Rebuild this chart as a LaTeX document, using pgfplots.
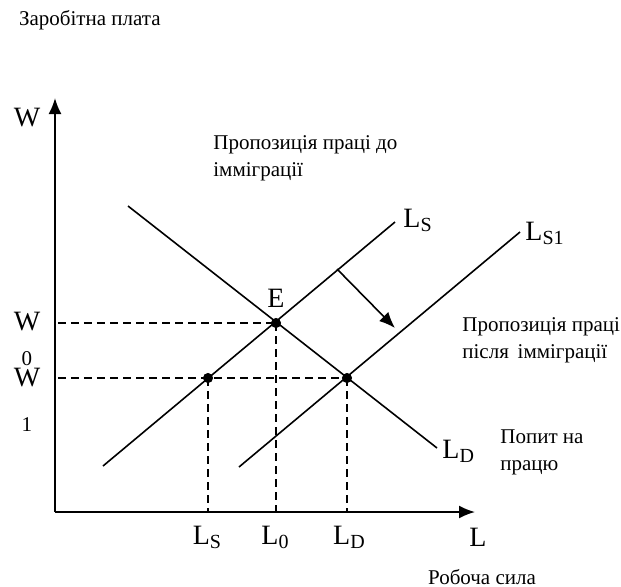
\documentclass[border=0pt]{standalone}
\usepackage{fontspec}
\setmainfont{Liberation Serif}
\usepackage{pgfplots}
\pgfplotsset{compat=1.18}
\usetikzlibrary{arrows.meta}

\newcommand\lbl{\fontsize{14}{14}\selectfont}
\newcommand\txt{\fontsize{10.5}{13.5}\selectfont}
\newcommand\sub[1]{\raisebox{-0.3ex}{\fontsize{10}{10}\selectfont #1}}

\begin{document}
\begin{tikzpicture}
\begin{axis}[
    scale only axis,
    width=210pt, height=207pt,
    xmin=0, xmax=420, ymin=0, ymax=414,
    axis lines=left,
    axis line style={line width=0.9pt, -{Latex[length=8pt,width=6.5pt]}},
    xtick=\empty, ytick=\empty,
    clip=false,
]
% curves
\addplot[black, line width=0.8pt] coordinates {(73,306) (382,64)};   % L_D
\addplot[black, line width=0.8pt] coordinates {(48,46) (340,290)};   % L_S
\addplot[black, line width=0.8pt] coordinates {(184,45) (465,280)};  % L_S1
% shift arrow
\addplot[black, line width=0.8pt, -{Latex[length=8pt,width=6.5pt]}] coordinates {(282,243) (340,184)};
% dashed guides
\addplot[black, line width=0.7pt, dash pattern=on 4pt off 2.5pt] coordinates {(3,189) (221,189)};
\addplot[black, line width=0.7pt, dash pattern=on 4pt off 2.5pt] coordinates {(3,134) (292,134)};
\addplot[black, line width=0.7pt, dash pattern=on 4pt off 2.5pt] coordinates {(153,134) (153,0)};
\addplot[black, line width=0.7pt, dash pattern=on 4pt off 2.5pt] coordinates {(221,189) (221,0)};
\addplot[black, line width=0.7pt, dash pattern=on 4pt off 2.5pt] coordinates {(292,134) (292,0)};
% equilibrium points
\addplot[only marks, mark=*, mark size=2.3pt, black] coordinates {(153,134) (221,189) (292,134)};

% labels
\node[anchor=west, font=\txt] at (axis cs:-43,492) {Заробітна плата};
\node[font=\lbl] at (axis cs:-28,394) {W};
\node[font=\lbl] at (axis cs:-28,190) {W};
\node[font=\txt, inner sep=0pt] at (axis cs:-28,153) {0};
\node[font=\lbl] at (axis cs:-28,134) {W};
\node[font=\txt] at (axis cs:-28,87) {1};
\node[font=\lbl] at (axis cs:221,214) {E};
\node[anchor=west, font=\lbl, inner sep=0pt] at (axis cs:348,292) {L\sub{S}};
\node[anchor=west, font=\lbl, inner sep=0pt] at (axis cs:470,279) {L\sub{S1}};
\node[anchor=west, font=\lbl, inner sep=0pt] at (axis cs:387,61) {L\sub{D}};
\node[anchor=west, font=\txt, align=left, inner sep=0pt] at (axis cs:445,60) {Попит на\\працю};
\node[anchor=west, font=\txt, align=left, inner sep=0pt] at (axis cs:407,172) {Пропозиція праці\\після\, імміграції};
\node[anchor=west, font=\txt, align=left, inner sep=0pt] at (axis cs:158,354) {Пропозиція праці до\\імміграції};
\node[font=\lbl] at (axis cs:152,-25) {L\sub{S}};
\node[font=\lbl] at (axis cs:220,-25) {L\sub{0}};
\node[font=\lbl] at (axis cs:294,-25) {L\sub{D}};
\node[font=\lbl] at (axis cs:423,-25) {L};
\node[font=\txt] at (axis cs:427,-65) {Робоча сила};

\coordinate (bl) at (axis cs:-55,-74);
\coordinate (tr) at (axis cs:566,512);
\end{axis}
\pgfresetboundingbox
\path (bl) rectangle (tr);
\end{tikzpicture}
\end{document}
